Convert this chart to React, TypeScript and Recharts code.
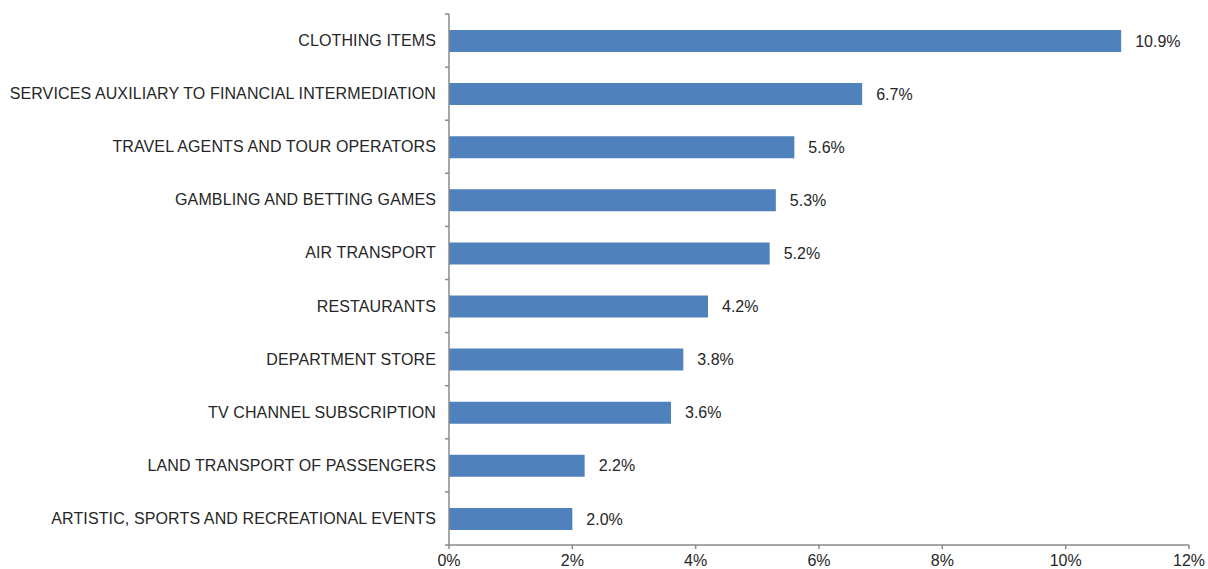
import React from 'react';
import { BarChart, Bar, XAxis, YAxis, LabelList } from 'recharts';

const categories = [
  'CLOTHING ITEMS',
  'SERVICES AUXILIARY TO FINANCIAL INTERMEDIATION',
  'TRAVEL AGENTS AND TOUR OPERATORS',
  'GAMBLING AND BETTING GAMES',
  'AIR TRANSPORT',
  'RESTAURANTS',
  'DEPARTMENT STORE',
  'TV CHANNEL SUBSCRIPTION',
  'LAND TRANSPORT OF PASSENGERS',
  'ARTISTIC, SPORTS AND RECREATIONAL EVENTS',
];
const shares = [10.9, 6.7, 5.6, 5.3, 5.2, 4.2, 3.8, 3.6, 2.2, 2.0];
const xTicks = [0, 2, 4, 6, 8, 10, 12];

const data = categories.map((name, i) => ({ name, value: shares[i] }));

const W = 1208;
const H = 569;
const MARGIN = { top: 14, right: 19, bottom: 0, left: 0 };
const Y_WIDTH = 449;
const X_HEIGHT = 24;
const AXIS_COLOR = '#8a8a8a';
const TEXT_COLOR = '#262626';
const FONT = 'Liberation Sans, Arial, sans-serif';
const band = (H - MARGIN.top - MARGIN.bottom - X_HEIGHT) / categories.length;

const CategoryTick = (props: any) => {
  const { y, payload, index } = props;
  const ax = MARGIN.left + Y_WIDTH;
  return (
    <g>
      <line x1={ax - 4} x2={ax} y1={y - band / 2} y2={y - band / 2} stroke={AXIS_COLOR} strokeWidth={1.5} />
      {index === categories.length - 1 && (
        <line x1={ax - 4} x2={ax} y1={y + band / 2} y2={y + band / 2} stroke={AXIS_COLOR} strokeWidth={1.5} />
      )}
      <text
        x={ax - 13}
        y={y}
        textAnchor="end"
        dominantBaseline="central"
        fill={TEXT_COLOR}
        fontSize={16}
        fontFamily={FONT}
        letterSpacing={0.12}
      >
        {payload.value}
      </text>
    </g>
  );
};

export default function App() {
  return (
    <div style={{ position: 'absolute', left: 0, top: 0, background: '#fff' }}>
      <BarChart width={W} height={H} data={data} layout="vertical" margin={MARGIN} barCategoryGap={0}>
        <XAxis
          type="number"
          domain={[0, 12]}
          ticks={xTicks}
          tickFormatter={(v: number) => `${v}%`}
          height={X_HEIGHT}
          stroke={AXIS_COLOR}
          strokeWidth={1.5}
          tickSize={4}
          tickMargin={6}
          tick={{ fill: TEXT_COLOR, fontSize: 16, fontFamily: FONT }}
          interval={0}
        />
        <YAxis
          type="category"
          dataKey="name"
          width={Y_WIDTH}
          stroke={AXIS_COLOR}
          strokeWidth={1.5}
          tickLine={false}
          tick={<CategoryTick />}
          interval={0}
        />
        <Bar dataKey="value" fill="#4f81bd" barSize={22} isAnimationActive={false}>
          <LabelList
            dataKey="value"
            position="right"
            offset={14}
            formatter={(v: any) => `${Number(v).toFixed(1)}%`}
            style={{ fill: TEXT_COLOR, fontSize: 16, fontFamily: FONT }}
          />
        </Bar>
      </BarChart>
    </div>
  );
}
